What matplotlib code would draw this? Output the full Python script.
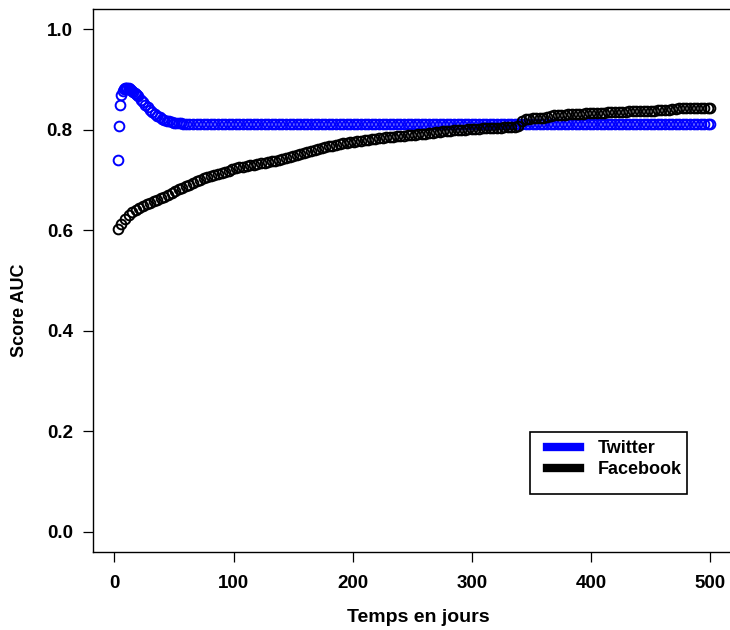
import matplotlib
matplotlib.use("Agg")
import matplotlib.pyplot as plt
from matplotlib.lines import Line2D
from matplotlib.patches import Rectangle

plt.rcParams['font.family'] = ['Liberation Sans', 'DejaVu Sans']

# AUC score per day
twitter_days = [3, 4, 5, 6, 7, 8, 9, 10, 11, 12, 13, 14, 15, 16, 17, 18, 19, 20,
                22, 24, 26, 28, 30, 32, 34, 36, 38, 40, 42, 44, 46, 48, 50, 52, 54, 56, 58, 60,
                63, 66, 69, 72, 75, 78, 81, 84, 87, 90, 93, 96, 99, 102, 105, 108, 111, 114,
                117, 120, 123, 126, 129, 132, 135, 138, 141, 144, 147, 150, 153, 156, 159, 162,
                165, 168, 171, 174, 177, 180, 183, 186, 189, 192, 195, 198, 201, 204, 207, 210,
                213, 216, 219, 222, 225, 228, 231, 234, 237, 240, 243, 246, 249, 252, 255, 258,
                261, 264, 267, 270, 273, 276, 279, 282, 285, 288, 291, 294, 297, 300, 303, 306,
                309, 312, 315, 318, 321, 324, 327, 330, 333, 336, 339, 342, 345, 348, 351, 354,
                357, 360, 363, 366, 369, 372, 375, 378, 381, 384, 387, 390, 393, 396, 399, 402,
                405, 408, 411, 414, 417, 420, 423, 426, 429, 432, 435, 438, 441, 444, 447, 450,
                453, 456, 459, 462, 465, 468, 471, 474, 477, 480, 483, 486, 489, 492, 495, 498, 500]
twitter_auc = [0.740, 0.808, 0.850, 0.868, 0.876, 0.880, 0.882, 0.883, 0.883, 0.882, 0.881, 0.879,
               0.877, 0.875, 0.873, 0.871, 0.868, 0.866,
               0.860, 0.855, 0.850, 0.845, 0.840, 0.836, 0.832, 0.828, 0.825, 0.822, 0.820, 0.818,
               0.817, 0.815, 0.814, 0.813, 0.813, 0.813, 0.812, 0.812,
               0.812, 0.812, 0.812, 0.812, 0.812, 0.812, 0.812, 0.812, 0.812, 0.812, 0.812, 0.812,
               0.812, 0.812, 0.812, 0.812, 0.812, 0.812, 0.812, 0.812, 0.812, 0.812, 0.812, 0.812,
               0.812, 0.812, 0.812, 0.812, 0.812, 0.812, 0.812, 0.812, 0.812, 0.812, 0.812, 0.812,
               0.812, 0.812, 0.812, 0.812, 0.812, 0.812, 0.812, 0.812, 0.812, 0.812, 0.812, 0.812,
               0.812, 0.812, 0.812, 0.812, 0.812, 0.812, 0.812, 0.812, 0.812, 0.812, 0.812, 0.812,
               0.812, 0.812, 0.812, 0.812, 0.812, 0.812, 0.812, 0.812, 0.812, 0.812, 0.812, 0.812,
               0.812, 0.812, 0.812, 0.812, 0.812, 0.812, 0.812, 0.812, 0.812, 0.812, 0.812, 0.812,
               0.812, 0.812, 0.812, 0.812, 0.812, 0.812, 0.812, 0.812, 0.812, 0.812, 0.812, 0.812,
               0.812, 0.812, 0.812, 0.812, 0.812, 0.812, 0.812, 0.812, 0.812, 0.812, 0.812, 0.812,
               0.812, 0.812, 0.812, 0.812, 0.812, 0.812, 0.812, 0.812, 0.812, 0.812, 0.812, 0.812,
               0.812, 0.812, 0.812, 0.812, 0.812, 0.812, 0.812, 0.812, 0.812, 0.812, 0.812, 0.812,
               0.812, 0.812, 0.812, 0.812, 0.812, 0.812, 0.812, 0.812, 0.812, 0.812, 0.812, 0.812,
               0.812, 0.812, 0.812]

facebook_days = [3, 6, 9, 12, 15, 18, 21, 24, 27, 30, 33, 36, 39, 42, 45, 48, 51, 54, 57, 60,
                 63, 66, 69, 72, 75, 78, 81, 84, 87, 90, 93, 96, 99, 102, 105, 108, 111, 114, 117, 120,
                 123, 126, 129, 132, 135, 138, 141, 144, 147, 150, 153, 156, 159, 162, 165, 168, 171, 174,
                 177, 180, 183, 186, 189, 192, 195, 198, 201, 204, 207, 210, 213, 216, 219, 222, 225, 228,
                 231, 234, 237, 240, 243, 246, 249, 252, 255, 258, 261, 264, 267, 270, 273, 276, 279, 282,
                 285, 288, 291, 294, 297, 300, 303, 306, 309, 312, 315, 318, 321, 324, 327, 330, 333, 336,
                 339, 342, 345, 348, 351, 354, 357, 360, 363, 366, 369, 372, 375, 378, 381, 384, 387, 390,
                 393, 396, 399, 402, 405, 408, 411, 414, 417, 420, 423, 426, 429, 432, 435, 438, 441, 444,
                 447, 450, 453, 456, 459, 462, 465, 468, 471, 474, 477, 480, 483, 486, 489, 492, 495, 498,
                 500]
facebook_auc = [0.603, 0.612, 0.622, 0.630, 0.636, 0.641, 0.645, 0.649, 0.652, 0.655,
                0.658, 0.661, 0.664, 0.667, 0.670, 0.674, 0.678, 0.681, 0.684, 0.687,
                0.690, 0.693, 0.697, 0.700, 0.703, 0.705, 0.707, 0.709, 0.711, 0.713,
                0.715, 0.718, 0.721, 0.723, 0.725, 0.726, 0.727, 0.729, 0.730, 0.732,
                0.733, 0.734, 0.736, 0.737, 0.738, 0.740, 0.742, 0.744, 0.746, 0.748,
                0.749, 0.751, 0.753, 0.755, 0.757, 0.759, 0.761, 0.763, 0.765, 0.767,
                0.768, 0.770, 0.771, 0.773, 0.774, 0.775, 0.776, 0.777, 0.778, 0.779,
                0.780, 0.781, 0.782, 0.783, 0.784, 0.785, 0.785, 0.786, 0.787, 0.787,
                0.788, 0.789, 0.789, 0.790, 0.791, 0.791, 0.792, 0.793, 0.794, 0.795,
                0.796, 0.797, 0.797, 0.798, 0.799, 0.799, 0.800, 0.800, 0.801, 0.801,
                0.802, 0.802, 0.803, 0.803, 0.803, 0.804, 0.804, 0.804, 0.805, 0.805,
                0.806, 0.806, 0.807, 0.818, 0.821, 0.822, 0.823, 0.823, 0.824, 0.824,
                0.826, 0.828, 0.829, 0.829, 0.830, 0.830, 0.831, 0.831, 0.832, 0.832,
                0.832, 0.833, 0.833, 0.833, 0.834, 0.834, 0.834, 0.835, 0.835, 0.835,
                0.836, 0.836, 0.836, 0.837, 0.837, 0.837, 0.837, 0.838, 0.838, 0.838,
                0.838, 0.839, 0.839, 0.839, 0.840, 0.841, 0.842, 0.843, 0.843, 0.844,
                0.844, 0.844, 0.844, 0.844, 0.844, 0.844, 0.844]

x_ticks = [0, 100, 200, 300, 400, 500]
y_ticks = [0.0, 0.2, 0.4, 0.6, 0.8, 1.0]
series_names = ['Twitter', 'Facebook']
series_colors = ['#0000ff', 'black']

W, H = 730, 630
fig = plt.figure(figsize=(7.3, 6.3), dpi=100)
# axes box runs just past the right edge of the picture, like the reference
ax = fig.add_axes([93 / W, 78 / H, 641 / W, 543 / H])

marker_style = dict(linestyle='none', marker='o', markersize=7,
                    markerfacecolor='none', markeredgewidth=1.4)
ax.plot(twitter_days, twitter_auc, markeredgecolor=series_colors[0], **marker_style)
ax.plot(facebook_days, facebook_auc, markeredgecolor=series_colors[1], **marker_style)

ax.set_xlim(-17.9, 519.9)
ax.set_ylim(-0.04, 1.04)
ax.set_xticks(x_ticks)
ax.set_yticks(y_ticks)
ax.set_xticklabels([str(t) for t in x_ticks])
ax.set_yticklabels(['%.1f' % t for t in y_ticks])
ax.tick_params(direction='out', length=7.5, width=0.9, labelsize=13.5, pad=7)
ax.tick_params(axis='x', pad=9)
for lab in ax.get_xticklabels() + ax.get_yticklabels():
    lab.set_fontweight('bold')
for sp in ax.spines.values():
    sp.set_linewidth(1.0)
ax.spines['right'].set_visible(False)

ax.set_xlabel('Temps en jours', fontsize=14, fontweight='bold')
ax.set_ylabel('Score AUC', fontsize=13, fontweight='bold')
ax.xaxis.set_label_coords((418 - 93) / 641, -(617 - 552) / 543)
ax.yaxis.set_label_coords(-(93 - 20) / 641, (552 - 310) / 543)
ax.xaxis.label.set_va('center')
ax.yaxis.label.set_va('center')

# legend: frame drawn separately so the inner padding matches the reference
fig.add_artist(Rectangle((530 / W, 1 - 494 / H), 157 / W, 62 / H,
                         transform=fig.transFigure, facecolor='white',
                         edgecolor='black', linewidth=1.2, zorder=5))
handles = [Line2D([0], [0], color=c, lw=6) for c in series_colors]
leg = fig.legend(handles, series_names, loc='upper left',
                 bbox_to_anchor=(547 / W, 1 - 440 / H),
                 prop={'size': 13, 'weight': 'bold'}, frameon=False,
                 handlelength=1.83, handletextpad=1.0, labelspacing=0.22,
                 borderpad=0, borderaxespad=0)
leg.set_zorder(6)

fig.savefig('out.png', dpi=100)
